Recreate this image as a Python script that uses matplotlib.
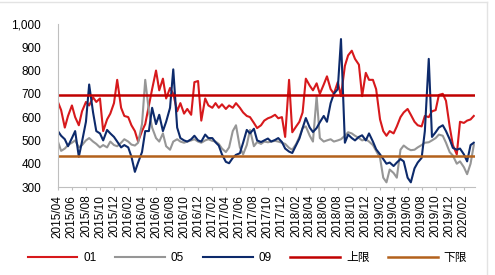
import matplotlib
matplotlib.use('Agg')
import matplotlib.pyplot as plt
import matplotlib.dates as mdates
from matplotlib.ticker import FuncFormatter
import pandas as pd

plt.rcParams['font.family'] = ['Liberation Sans', 'Noto Sans CJK SC', 'DejaVu Sans']

# semi-monthly readings, 2015/04 .. 2020/03
dates = pd.date_range('2015-04-01', periods=120, freq='SMS')

s01 = [665, 630, 555, 605, 650, 600, 565, 625, 665, 650,
       685, 665, 680, 540, 590, 615, 660, 760, 640, 605,
       600, 565, 540, 495, 540, 570, 650, 720, 800, 715,
       765, 680, 725, 700, 625, 660, 615, 635, 610, 750,
       755, 585, 680, 650, 640, 660, 640, 655, 635, 650,
       640, 660, 640, 620, 605, 600, 575, 553, 565, 585,
       595, 600, 610, 595, 600, 515, 760, 535, 560, 580,
       620, 765, 735, 715, 745, 700, 740, 775, 720, 700,
       750, 690, 820, 865, 885, 850, 825, 690, 790, 760,
       760, 720, 590, 540, 520, 540, 530, 560, 600, 620,
       635, 610, 580, 565, 560, 605, 600, 625, 630, 695,
       700, 670, 560, 480, 440, 580, 575, 585, 590, 605]

s05 = [495, 455, 465, 480, 490, 500, 470, 480, 500, 510,
       495, 485, 470, 480, 470, 495, 480, 475, 490, 505,
       495, 482, 478, 490, 570, 760, 625, 555, 510, 495,
       530, 475, 460, 495, 505, 495, 490, 495, 500, 505,
       495, 490, 500, 505, 498, 495, 485, 465, 450, 470,
       540, 565, 470, 440, 480, 545, 475, 493, 485, 495,
       492, 495, 498, 495, 490, 485, 468, 460, 485, 515,
       553, 560, 520, 495, 690, 510, 495, 500, 505, 495,
       500, 505, 520, 535, 530, 520, 510, 500, 505, 495,
       480, 455, 425, 340, 320, 375, 360, 340, 460, 478,
       465, 458, 460, 470, 480, 490, 492, 500, 510, 525,
       520, 490, 450, 435, 400, 410, 385, 355, 400, 480]

s09 = [540, 520, 505, 475, 510, 540, 430, 495, 580, 740,
       620, 540, 530, 500, 545, 530, 515, 495, 470, 480,
       470, 430, 365, 405, 450, 540, 540, 640, 570, 610,
       540, 580, 640, 805, 555, 510, 500, 495, 505, 520,
       500, 495, 525, 510, 510, 492, 478, 440, 408, 402,
       425, 438, 445, 490, 545, 530, 550, 500, 493, 500,
       508, 495, 502, 510, 493, 465, 452, 446, 480, 508,
       553, 596, 555, 536, 553, 578, 605, 580, 660, 700,
       720, 935, 490, 525, 510, 500, 515, 522, 500, 530,
       495, 462, 440, 420, 400, 405, 390, 405, 420, 410,
       340, 320, 380, 405, 425, 540, 850, 515, 535, 555,
       565, 540, 505, 468, 460, 465, 440, 410, 480, 490]

upper = 695
lower = 435

tick_dates = pd.date_range('2015-04-01', '2020-02-01', freq='2MS')

fig = plt.figure(figsize=(4.95, 2.75), dpi=100)
ax = fig.add_axes([0.117, 0.32, 0.842, 0.593])

ax.plot(dates, s01, color='#D7191C', lw=1.5, label='01')
ax.plot(dates, s05, color='#969696', lw=1.5, label='05')
ax.plot(dates, s09, color='#0D2A6B', lw=1.5, label='09')
ax.plot(dates, [upper] * len(dates), color='#C00000', lw=1.8, label='上限')
ax.plot(dates, [lower] * len(dates), color='#B3611C', lw=1.8, label='下限')

ax.set_ylim(300, 1000)
ax.set_yticks(range(300, 1001, 100))
ax.yaxis.set_major_formatter(FuncFormatter(lambda v, p: f'{int(v):,}'))
ax.set_xlim(dates[0], dates[-1] + pd.Timedelta(days=4))
ax.set_xticks(tick_dates)
ax.xaxis.set_major_formatter(mdates.DateFormatter('%Y/%m'))

for s in ['top', 'right']:
    ax.spines[s].set_visible(False)
for s in ['left', 'bottom']:
    ax.spines[s].set_color('#BFBFBF')
    ax.spines[s].set_linewidth(0.8)

ax.tick_params(axis='y', length=0, pad=12, labelsize=8.5)
ax.tick_params(axis='x', length=2.5, color='#BFBFBF', pad=3, labelsize=8.5,
               labelrotation=90)

fig.legend(loc='center', bbox_to_anchor=(0.5, 0.062), ncol=5, frameon=False,
           fontsize=8.5, handlelength=4.2, columnspacing=1.6, handletextpad=0.5)

# faint frame on the top and right like the source screenshot
fig.add_artist(plt.Line2D([0, 0.984], [0.993, 0.993], color='#E3E3E3', lw=1))
fig.add_artist(plt.Line2D([0.984, 0.984], [0.0, 0.993], color='#E3E3E3', lw=1))

fig.savefig('out.png', dpi=100)
